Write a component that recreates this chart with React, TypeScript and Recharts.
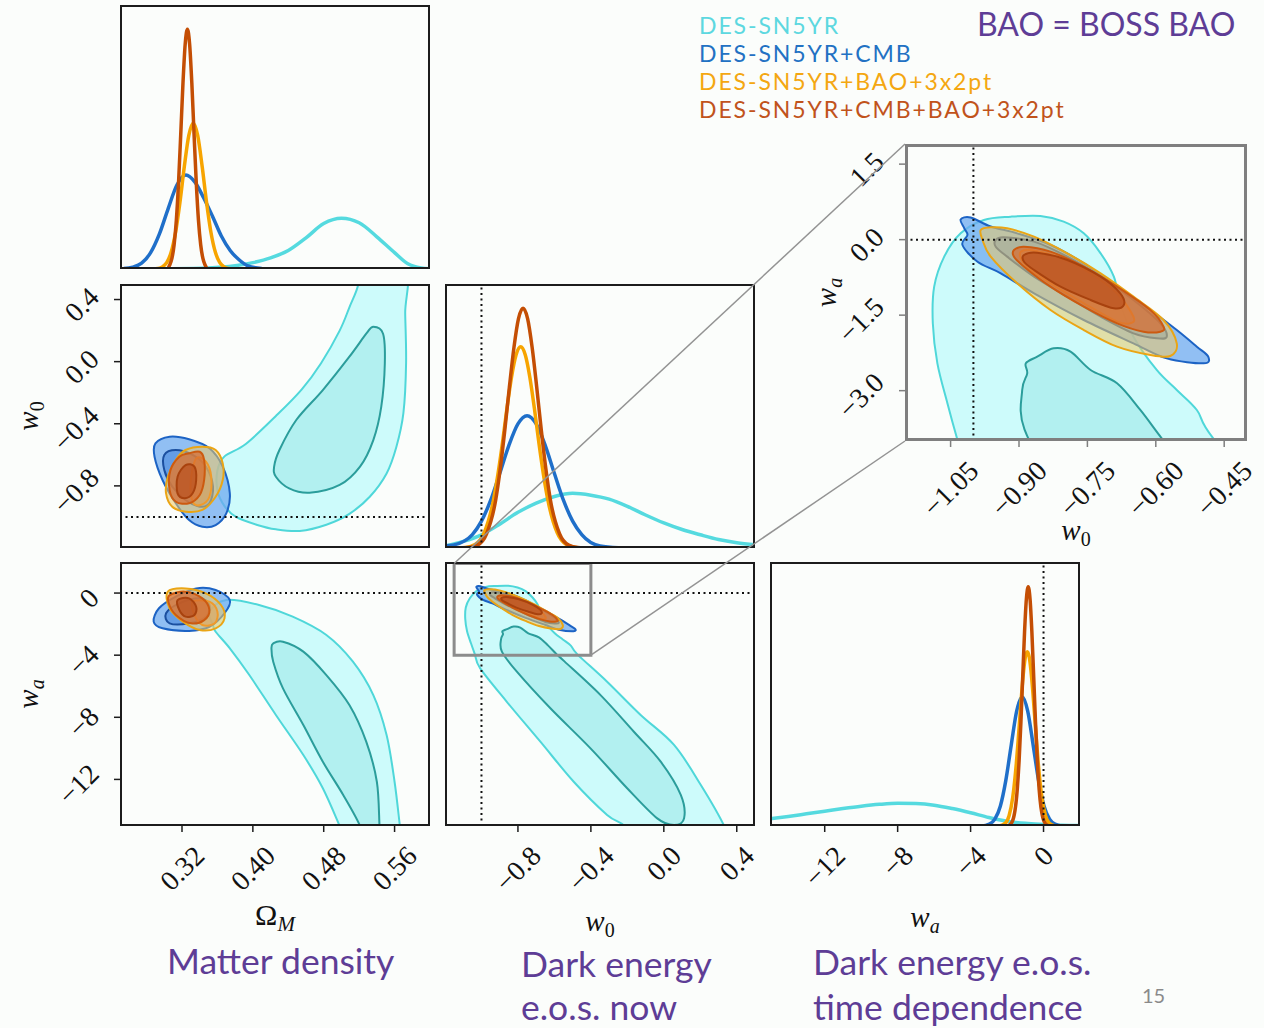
import React from "react";
import { ComposedChart, Line, Scatter, XAxis, YAxis } from "recharts";

type Pt = [number, number];
type Box = { x: number; y: number; w: number; h: number };
type Sty = { fill: string; stroke: string };

// ---- axis ranges / ticks ----
const omRange: [number, number] = [0.25, 0.6];
const w0Range: [number, number] = [-1.2, 0.5];
const waRange: [number, number] = [-15, 2];
const pdfRange: [number, number] = [0, 1];
const zoomW0Range: [number, number] = [-1.15, -0.4];
const zoomWaRange: [number, number] = [-4, 1.9];

const omTicks = [0.32, 0.4, 0.48, 0.56];
const w0Ticks = [-0.8, -0.4, 0, 0.4];
const waTicks = [-12, -8, -4, 0];
const zoomW0Ticks = [-1.05, -0.9, -0.75, -0.6, -0.45];
const zoomWaTicks = [1.5, 0, -1.5, -3];

// LCDM values (dotted lines)
const w0Fid = -1;
const waFid = 0;

const seriesNames = ["DES-SN5YR", "DES-SN5YR+CMB", "DES-SN5YR+BAO+3x2pt", "DES-SN5YR+CMB+BAO+3x2pt"];

// ---- 1D marginals (normalised heights) ----
const omCyan: Pt[] = [[0.25, 0], [0.3, 0.001], [0.35, 0.004], [0.38, 0.012], [0.4, 0.024], [0.42, 0.042], [0.44, 0.07], [0.46, 0.118], [0.48, 0.172], [0.5, 0.192], [0.52, 0.175], [0.54, 0.122], [0.56, 0.062], [0.575, 0.02], [0.59, 0.004], [0.6, 0.001]];
const omBlue: Pt[] = [[0.2544, 0.002], [0.2644, 0.007], [0.2744, 0.022], [0.2844, 0.061], [0.2944, 0.132], [0.3044, 0.229], [0.3144, 0.319], [0.3244, 0.356], [0.3344, 0.33], [0.3444, 0.27], [0.3544, 0.2], [0.3644, 0.125], [0.3744, 0.07], [0.3844, 0.035], [0.3944, 0.012], [0.41, 0.002]];
const omOrange: Pt[] = [[0.2877, 0], [0.2927, 0.002], [0.2977, 0.008], [0.3027, 0.024], [0.3077, 0.063], [0.3127, 0.138], [0.3177, 0.253], [0.3227, 0.39], [0.3277, 0.506], [0.3327, 0.552], [0.3377, 0.506], [0.3427, 0.39], [0.3477, 0.253], [0.3527, 0.138], [0.3577, 0.063], [0.3627, 0.024], [0.3677, 0.008], [0.3727, 0.002], [0.3777, 0]];
const omRed: Pt[] = [[0.2986, 0], [0.3036, 0.002], [0.3061, 0.015], [0.3086, 0.04], [0.3111, 0.092], [0.3136, 0.184], [0.3161, 0.327], [0.3186, 0.512], [0.3211, 0.704], [0.3236, 0.852], [0.3261, 0.908], [0.3286, 0.852], [0.3311, 0.704], [0.3336, 0.512], [0.3361, 0.327], [0.3386, 0.184], [0.3411, 0.092], [0.3436, 0.04], [0.3461, 0.015], [0.3486, 0.002], [0.3536, 0]];

const w0Cyan: Pt[] = [[-1.2, 0.008], [-1.1, 0.025], [-1.0, 0.05], [-0.9, 0.09], [-0.8, 0.135], [-0.7, 0.17], [-0.6, 0.195], [-0.5, 0.207], [-0.4, 0.2], [-0.3, 0.185], [-0.2, 0.158], [-0.1, 0.125], [0.0, 0.095], [0.1, 0.07], [0.2, 0.05], [0.3, 0.032], [0.4, 0.02], [0.5, 0.012]];
const w0Blue: Pt[] = [[-1.2, 0.008], [-1.15, 0.012], [-1.05, 0.051], [-1.0, 0.102], [-0.95, 0.18], [-0.9, 0.282], [-0.85, 0.388], [-0.8, 0.47], [-0.75, 0.501], [-0.7, 0.47], [-0.65, 0.388], [-0.6, 0.282], [-0.55, 0.18], [-0.5, 0.102], [-0.45, 0.051], [-0.35, 0.008], [-0.25, 0.001], [-0.19, 0]];
const w0Orange: Pt[] = [[-1.2, 0], [-1.085, 0.002], [-1.035, 0.013], [-0.985, 0.058], [-0.935, 0.179], [-0.91, 0.278], [-0.885, 0.398], [-0.86, 0.53], [-0.835, 0.648], [-0.81, 0.732], [-0.785, 0.762], [-0.76, 0.732], [-0.735, 0.648], [-0.71, 0.53], [-0.685, 0.398], [-0.66, 0.278], [-0.635, 0.179], [-0.585, 0.058], [-0.535, 0.013], [-0.485, 0.002], [-0.4, 0]];
const w0Red: Pt[] = [[-1.2, 0], [-1.072, 0.002], [-1.022, 0.011], [-0.972, 0.054], [-0.922, 0.182], [-0.897, 0.3], [-0.872, 0.447], [-0.847, 0.609], [-0.822, 0.759], [-0.797, 0.869], [-0.772, 0.908], [-0.747, 0.869], [-0.722, 0.759], [-0.697, 0.609], [-0.672, 0.447], [-0.647, 0.3], [-0.622, 0.182], [-0.572, 0.054], [-0.522, 0.011], [-0.472, 0.002], [-0.4, 0]];

const waCyan: Pt[] = [[-15, 0.027], [-14, 0.036], [-13, 0.046], [-12, 0.056], [-11, 0.066], [-10, 0.075], [-9, 0.082], [-8, 0.086], [-7, 0.085], [-6, 0.079], [-5, 0.066], [-4, 0.05], [-3, 0.032], [-2, 0.018], [-1, 0.01], [0, 0.006], [1, 0.003], [2, 0.002]];
const waBlue: Pt[] = [[-4.7, 0], [-3.37, 0], [-2.97, 0.007], [-2.67, 0.026], [-2.37, 0.075], [-2.07, 0.172], [-1.77, 0.307], [-1.47, 0.436], [-1.17, 0.49], [-0.87, 0.436], [-0.57, 0.307], [-0.27, 0.172], [0.03, 0.075], [0.33, 0.026], [0.63, 0.007], [1.03, 0], [2, 0]];
const waOrange: Pt[] = [[-4.7, 0], [-2.39, 0.001], [-2.09, 0.011], [-1.89, 0.039], [-1.69, 0.108], [-1.49, 0.238], [-1.39, 0.325], [-1.29, 0.419], [-1.19, 0.511], [-1.09, 0.589], [-0.99, 0.642], [-0.89, 0.66], [-0.79, 0.642], [-0.69, 0.589], [-0.59, 0.511], [-0.49, 0.419], [-0.39, 0.325], [-0.29, 0.238], [-0.09, 0.108], [0.11, 0.039], [0.31, 0.011], [0.61, 0.001], [2, 0]];
const waRed: Pt[] = [[-4.7, 0], [-2.04, 0], [-1.84, 0.005], [-1.64, 0.032], [-1.44, 0.139], [-1.34, 0.247], [-1.24, 0.394], [-1.14, 0.567], [-1.04, 0.736], [-0.94, 0.86], [-0.84, 0.906], [-0.74, 0.86], [-0.64, 0.736], [-0.54, 0.567], [-0.44, 0.394], [-0.34, 0.247], [-0.24, 0.139], [-0.04, 0.032], [0.16, 0.005], [0.36, 0], [2, 0]];

// ---- 2D contours: (Omega_M, w0) ----
const omW0CyanOut: Pt[] = [[0.515, 0.6], [0.571, 0.6], [0.572, 0.31], [0.573, -0.01], [0.57, -0.33], [0.562, -0.55], [0.551, -0.72], [0.532, -0.87], [0.509, -0.98], [0.483, -1.05], [0.453, -1.09], [0.426, -1.08], [0.404, -1.05], [0.381, -1.0], [0.368, -0.93], [0.36, -0.83], [0.36, -0.7], [0.368, -0.61], [0.392, -0.53], [0.426, -0.35], [0.455, -0.18], [0.477, -0.01], [0.498, 0.2], [0.509, 0.35], [0.519, 0.5]];
const omW0CyanIn: Pt[] = [[0.536, 0.225], [0.547, 0.18], [0.549, -0.01], [0.545, -0.29], [0.536, -0.505], [0.521, -0.676], [0.498, -0.794], [0.464, -0.844], [0.441, -0.816], [0.426, -0.741], [0.424, -0.676], [0.43, -0.569], [0.449, -0.376], [0.479, -0.183], [0.509, 0.032], [0.528, 0.18]];
const omW0BlueOut: Pt[] = [[0.29, -0.526], [0.306, -0.483], [0.328, -0.5], [0.351, -0.558], [0.366, -0.676], [0.374, -0.848], [0.37, -0.977], [0.358, -1.052], [0.343, -1.063], [0.328, -1.02], [0.313, -0.912], [0.298, -0.762], [0.289, -0.612]];
const omW0BlueIn: Pt[] = [[0.3, -0.601], [0.313, -0.569], [0.332, -0.601], [0.347, -0.676], [0.355, -0.805], [0.351, -0.912], [0.34, -0.934], [0.324, -0.891], [0.309, -0.805], [0.3, -0.698]];
const omW0OrOut: Pt[] = [[0.324, -0.569], [0.343, -0.548], [0.358, -0.569], [0.366, -0.655], [0.366, -0.762], [0.358, -0.87], [0.343, -0.955], [0.324, -0.966], [0.309, -0.934], [0.302, -0.848], [0.304, -0.741], [0.313, -0.633]];
const omW0OrIn: Pt[] = [[0.336, -0.623], [0.347, -0.644], [0.353, -0.741], [0.351, -0.87], [0.341, -0.923], [0.332, -0.902], [0.33, -0.762]];
const omW0RedOut: Pt[] = [[0.328, -0.59], [0.34, -0.58], [0.345, -0.633], [0.345, -0.762], [0.34, -0.859], [0.328, -0.912], [0.313, -0.902], [0.306, -0.827], [0.307, -0.698], [0.317, -0.612]];
const omW0RedIn: Pt[] = [[0.324, -0.666], [0.334, -0.676], [0.336, -0.762], [0.332, -0.848], [0.323, -0.88], [0.315, -0.848], [0.315, -0.741]];

// ---- 2D contours: (Omega_M, wa) ----
const omWaCyanOut: Pt[] = [[0.37, -0.45], [0.407, -0.77], [0.445, -1.52], [0.483, -2.7], [0.513, -4.42], [0.536, -6.57], [0.551, -9.14], [0.56, -12.15], [0.566, -15], [0.568, -16], [0.505, -16], [0.498, -15], [0.479, -12.57], [0.457, -10.43], [0.426, -7.85], [0.396, -5.28], [0.374, -3.56], [0.358, -2.49], [0.355, -2.06], [0.351, -1.2]];
const omWaCyanIn: Pt[] = [[0.423, -3.24], [0.434, -3.13], [0.457, -3.77], [0.483, -5.28], [0.509, -7.21], [0.528, -9.57], [0.54, -12.15], [0.543, -15], [0.544, -16], [0.523, -16], [0.521, -15], [0.502, -13.0], [0.479, -10.86], [0.457, -8.5], [0.434, -6.14], [0.423, -4.42], [0.421, -3.56]];
const omWaBlueOut: Pt[] = [[0.294, -0.98], [0.313, -0.23], [0.336, 0.3], [0.358, 0.2], [0.374, -0.45], [0.368, -1.3], [0.351, -2.17], [0.328, -2.44], [0.298, -2.27], [0.288, -1.84]];
const omWaBlueIn: Pt[] = [[0.302, -1.3], [0.317, -0.66], [0.34, -0.34], [0.351, -0.77], [0.347, -1.52], [0.328, -1.95], [0.306, -1.95]];
const omWaOrOut: Pt[] = [[0.304, 0.09], [0.324, 0.3], [0.347, -0.02], [0.364, -0.77], [0.368, -1.63], [0.358, -2.27], [0.34, -2.38], [0.321, -1.84], [0.306, -0.98]];
const omWaOrIn: Pt[] = [[0.332, -0.55], [0.351, -0.55], [0.36, -1.2], [0.357, -1.95], [0.343, -2.06], [0.334, -1.41]];
const omWaRedOut: Pt[] = [[0.306, -0.13], [0.324, 0.09], [0.343, -0.34], [0.351, -1.09], [0.345, -1.74], [0.33, -1.95], [0.313, -1.41], [0.305, -0.66]];
const omWaRedIn: Pt[] = [[0.315, -0.45], [0.328, -0.34], [0.336, -0.88], [0.334, -1.41], [0.324, -1.52], [0.317, -1.09]];

// ---- 2D contours: (w0, wa), shared by the panel and the zoom ----
const w0WaCyanOut: Pt[] = [[-1.064, -0.338], [-1.028, 0.125], [-0.977, 0.39], [-0.918, 0.456], [-0.853, 0.47], [-0.802, 0.357], [-0.758, 0.125], [-0.721, -0.272], [-0.692, -0.736], [-0.678, -1.265], [-0.649, -1.928], [-0.598, -2.589], [-0.554, -2.987], [-0.51, -3.384], [-0.474, -3.947], [-0.311, -5.71], [-0.127, -7.85], [0.056, -9.78], [0.203, -12.36], [0.331, -15], [0.35, -16], [-0.24, -16], [-0.219, -15], [-0.311, -14.29], [-0.494, -12.15], [-0.677, -9.57], [-0.861, -7.0], [-1.007, -4.85], [-1.036, -3.947], [-1.057, -3.25], [-1.079, -2.457], [-1.089, -1.662], [-1.086, -0.934]];
const w0WaCyanIn: Pt[] = [[-0.885, -2.457], [-0.86, -2.325], [-0.824, -2.159], [-0.787, -2.225], [-0.743, -2.589], [-0.685, -2.854], [-0.634, -3.384], [-0.587, -3.947], [-0.545, -4.4], [-0.347, -6.57], [-0.164, -8.93], [-0.017, -10.86], [0.093, -13.0], [0.111, -14.51], [0.056, -14.94], [-0.036, -14.51], [-0.201, -12.57], [-0.402, -10.0], [-0.622, -7.42], [-0.806, -5.06], [-0.888, -3.77], [-0.893, -2.987], [-0.882, -2.655]];
const w0WaBlueOut: Pt[] = [[-1.028, 0.4], [-1.006, 0.44], [-0.962, 0.26], [-0.904, 0.125], [-0.831, -0.106], [-0.758, -0.47], [-0.685, -0.934], [-0.612, -1.398], [-0.554, -1.795], [-0.51, -2.126], [-0.485, -2.325], [-0.495, -2.457], [-0.576, -2.358], [-0.649, -2.06], [-0.758, -1.596], [-0.867, -1.066], [-0.94, -0.669], [-0.991, -0.438], [-1.024, -0.106], [-1.013, 0.092], [-1.02, 0.225]];
const w0WaBlueIn: Pt[] = [[-0.951, -0.007], [-0.933, 0.046], [-0.867, -0.04], [-0.794, -0.338], [-0.721, -0.736], [-0.649, -1.199], [-0.59, -1.662], [-0.576, -1.928], [-0.598, -1.96], [-0.649, -1.861], [-0.721, -1.53], [-0.794, -1.133], [-0.867, -0.736], [-0.926, -0.338], [-0.951, -0.14]];
const w0WaOrOut: Pt[] = [[-0.984, 0.192], [-0.962, 0.245], [-0.926, 0.225], [-0.867, 0.059], [-0.794, -0.272], [-0.721, -0.669], [-0.649, -1.133], [-0.583, -1.596], [-0.554, -2.06], [-0.568, -2.311], [-0.612, -2.292], [-0.685, -2.126], [-0.758, -1.795], [-0.831, -1.398], [-0.904, -0.868], [-0.962, -0.338], [-0.98, -0.007]];
const w0WaOrIn: Pt[] = [[-0.896, -0.239], [-0.875, -0.206], [-0.816, -0.338], [-0.743, -0.669], [-0.685, -1.066], [-0.649, -1.53], [-0.656, -1.662], [-0.685, -1.629], [-0.758, -1.265], [-0.831, -0.868], [-0.882, -0.537], [-0.896, -0.371]];
const w0WaRedOut: Pt[] = [[-0.911, -0.206], [-0.889, -0.14], [-0.831, -0.239], [-0.758, -0.537], [-0.685, -0.934], [-0.612, -1.398], [-0.583, -1.729], [-0.59, -1.828], [-0.627, -1.828], [-0.685, -1.662], [-0.758, -1.331], [-0.831, -0.934], [-0.889, -0.537], [-0.911, -0.338]];
const w0WaRedIn: Pt[] = [[-0.889, -0.305], [-0.86, -0.259], [-0.794, -0.404], [-0.721, -0.736], [-0.678, -1.066], [-0.67, -1.298], [-0.692, -1.365], [-0.743, -1.199], [-0.809, -0.934], [-0.867, -0.603], [-0.889, -0.438]];

// ---- colours ----
const LINE = { cyan: "#55dadf", blue: "#1f6fc9", orange: "#f7a400", red: "#c44e04" };
const LEGEND = ["#5dd8e0", "#2271c3", "#f4a711", "#c1531b"];
const PURPLE = "#5e3d96";
const S: Record<string, Sty> = {
  cyanOut: { fill: "#cdfbfb", stroke: "#4fd7d9" },
  cyanIn: { fill: "#b2f0f0", stroke: "#2b9d9b" },
  blueOut: { fill: "rgba(110,170,240,0.75)", stroke: "#1c63c4" },
  blueIn: { fill: "rgba(70,135,220,0.6)", stroke: "#1b4f9f" },
  orOut: { fill: "rgba(240,200,100,0.55)", stroke: "#eaa515" },
  orIn: { fill: "rgba(235,160,70,0.5)", stroke: "#f09a2a" },
  redOut: { fill: "rgba(215,105,45,0.7)", stroke: "#cc5a10" },
  redIn: { fill: "rgba(185,80,30,0.7)", stroke: "#a8420e" },
};

const SERIF = "'Liberation Serif', 'DejaVu Serif', serif";
const SANS = "Lato, 'Open Sans', sans-serif";
const TFS = 28;

// ---- layout ----
const P11: Box = { x: 120, y: 5, w: 310, h: 264 };
const P21: Box = { x: 120, y: 284, w: 310, h: 264 };
const P22: Box = { x: 445, y: 284, w: 310, h: 264 };
const P31: Box = { x: 120, y: 562, w: 310, h: 264 };
const P32: Box = { x: 445, y: 562, w: 310, h: 264 };
const P33: Box = { x: 770, y: 562, w: 310, h: 264 };
const INSET: Box = { x: 905, y: 144, w: 342, h: 297 };
const PAD_L = 110;
const PAD_R = 30;
const PAD_B = 110;
const PAD_T = 30;

const toXY = (pts: Pt[]) => pts.map(([x, y]) => ({ x, y }));

const fmt = (v: number, d: number) => {
  const s = Math.abs(v).toFixed(d);
  return v < -1e-9 ? "\u2212" + s : s;
};
const estW = (s: string) => [...s].reduce((a, c) => a + (c === "." ? 0.25 : c === "\u2212" ? 0.564 : 0.5), 0) * TFS;

const xTick = (digits: number) => (p: any) => {
  const s = fmt(p.payload.value, digits);
  const bb = (estW(s) + TFS * 0.6) * 0.7071;
  const cx = p.x;
  const cy = p.y + 11 + bb / 2;
  return (
    <text x={cx} y={cy} textAnchor="middle" dominantBaseline="central" transform={`rotate(-45 ${cx} ${cy})`} fontSize={TFS} fontFamily={SERIF} fill="#111">
      {s}
    </text>
  );
};
const yTick = (digits: number) => (p: any) => {
  const s = fmt(p.payload.value, digits);
  const bb = (estW(s) + TFS * 0.6) * 0.7071;
  const cx = p.x - 12 - bb / 2;
  const cy = p.y + 5;
  return (
    <text x={cx} y={cy} textAnchor="middle" dominantBaseline="central" transform={`rotate(-45 ${cx} ${cy})`} fontSize={TFS} fontFamily={SERIF} fill="#111">
      {s}
    </text>
  );
};

// closed Catmull-Rom through the scaled points
const smoothClosed = (pts: { x: number; y: number }[]) => {
  const n = pts.length;
  let d = `M${pts[0].x},${pts[0].y}`;
  for (let i = 0; i < n; i++) {
    const p0 = pts[(i - 1 + n) % n], p1 = pts[i], p2 = pts[(i + 1) % n], p3 = pts[(i + 2) % n];
    d += `C${p1.x + (p2.x - p0.x) / 6},${p1.y + (p2.y - p0.y) / 6} ${p2.x - (p3.x - p1.x) / 6},${p2.y - (p3.y - p1.y) / 6} ${p2.x},${p2.y}`;
  }
  return d + "Z";
};

const noDot = () => <g />;

const pdf = (key: string, pts: Pt[], color: string) => (
  <Line key={key} data={toXY(pts)} dataKey="y" type="monotone" stroke={color} strokeWidth={3.5} dot={false} activeDot={false} isAnimationActive={false} />
);

const contour = (key: string, pts: Pt[], s: Sty) => (
  <Scatter
    key={key}
    data={toXY(pts)}
    isAnimationActive={false}
    shape={noDot}
    line={(lp: any) => <path d={smoothClosed(lp.points)} fill={s.fill} stroke={s.stroke} strokeWidth={2} strokeLinejoin="round" />}
  />
);

const dotted = (key: string, pts: Pt[]) => (
  <Scatter key={key} data={toXY(pts)} isAnimationActive={false} shape={noDot} line={{ stroke: "#111", strokeWidth: 2, strokeDasharray: "2 3.5" }} />
);

const boxOutline = (key: string, xr: [number, number], yr: [number, number]) => (
  <Scatter
    key={key}
    data={toXY([[xr[0], yr[0]], [xr[1], yr[0]], [xr[1], yr[1]], [xr[0], yr[1]]])}
    isAnimationActive={false}
    shape={noDot}
    line={(lp: any) => (
      <path d={"M" + lp.points.map((q: any) => `${q.x},${q.y}`).join("L") + "Z"} fill="none" stroke="#8c8c8c" strokeWidth={3} />
    )}
  />
);

const w0WaSet = (pfx: string) => [
  contour(pfx + "co", w0WaCyanOut, S.cyanOut),
  contour(pfx + "ci", w0WaCyanIn, S.cyanIn),
  contour(pfx + "bo", w0WaBlueOut, S.blueOut),
  contour(pfx + "bi", w0WaBlueIn, S.blueIn),
  contour(pfx + "oo", w0WaOrOut, S.orOut),
  contour(pfx + "oi", w0WaOrIn, S.orIn),
  contour(pfx + "ro", w0WaRedOut, S.redOut),
  contour(pfx + "ri", w0WaRedIn, S.redIn),
];

interface PanelProps {
  box: Box;
  xDomain: [number, number];
  yDomain: [number, number];
  xTicks?: number[];
  yTicks?: number[];
  xDigits?: number;
  yDigits?: number;
  frame?: string;
  frameW?: number;
  children: React.ReactNode;
}

function Panel({ box, xDomain, yDomain, xTicks, yTicks, xDigits = 1, yDigits = 1, frame = "#1c1c1c", frameW = 2, children }: PanelProps) {
  const W = PAD_L + box.w + PAD_R;
  const H = PAD_T + box.h + PAD_B;
  return (
    <div style={{ position: "absolute", left: box.x - PAD_L, top: box.y - PAD_T, width: W, height: H }}>
      <ComposedChart width={W} height={H} margin={{ top: PAD_T, right: PAD_R, bottom: 0, left: 0 }}>
        <XAxis
          type="number"
          dataKey="x"
          domain={xDomain}
          allowDataOverflow
          height={PAD_B}
          ticks={xTicks}
          interval={0}
          axisLine={false}
          tickSize={6}
          tick={xTicks ? xTick(xDigits) : false}
          tickLine={xTicks ? { stroke: frame, strokeWidth: 1.5 } : false}
        />
        <YAxis
          type="number"
          dataKey="y"
          domain={yDomain}
          allowDataOverflow
          width={PAD_L}
          ticks={yTicks}
          interval={0}
          axisLine={false}
          tickSize={6}
          tick={yTicks ? yTick(yDigits) : false}
          tickLine={yTicks ? { stroke: frame, strokeWidth: 1.5 } : false}
        />
        {children}
      </ComposedChart>
      <div
        style={{
          position: "absolute",
          left: PAD_L,
          top: PAD_T,
          width: box.w,
          height: box.h,
          border: `${frameW}px solid ${frame}`,
          boxSizing: "border-box",
          pointerEvents: "none",
        }}
      />
    </div>
  );
}

const px = (b: Box, d: [number, number], v: number) => b.x + ((v - d[0]) / (d[1] - d[0])) * b.w;
const py = (b: Box, d: [number, number], v: number) => b.y + b.h - ((v - d[0]) / (d[1] - d[0])) * b.h;

export default function App() {
  const rectL = px(P32, w0Range, zoomW0Range[0]);
  const rectR = px(P32, w0Range, zoomW0Range[1]);
  const rectT = py(P32, waRange, zoomWaRange[1]);
  const rectB = py(P32, waRange, zoomWaRange[0]);
  const mathLabel = (x: number, y: number, main: string, sub: string, subItalic: boolean, mainItalic = true) => (
    <text x={x} y={y} textAnchor="middle" fontFamily={SERIF} fontSize={29} fill="#111" fontStyle={mainItalic ? "italic" : "normal"}>
      {main}
      <tspan fontSize={20} dy={6} fontStyle={subItalic ? "italic" : "normal"}>
        {sub}
      </tspan>
    </text>
  );
  const purple = (x: number, y: number, s: string) => (
    <text x={x} y={y} fontFamily={SANS} fontSize={35.5} fill={PURPLE}>
      {s}
    </text>
  );

  return (
    <div style={{ position: "absolute", left: 0, top: 0, width: 1264, height: 1028, background: "#fbfdfb", overflow: "hidden" }}>
      <Panel box={P11} xDomain={omRange} yDomain={pdfRange}>
        {[pdf("c", omCyan, LINE.cyan), pdf("b", omBlue, LINE.blue), pdf("o", omOrange, LINE.orange), pdf("r", omRed, LINE.red)]}
      </Panel>

      <Panel box={P21} xDomain={omRange} yDomain={w0Range} yTicks={w0Ticks} yDigits={1}>
        {[
          contour("co", omW0CyanOut, S.cyanOut),
          contour("ci", omW0CyanIn, S.cyanIn),
          contour("bo", omW0BlueOut, S.blueOut),
          contour("bi", omW0BlueIn, S.blueIn),
          contour("oo", omW0OrOut, S.orOut),
          contour("oi", omW0OrIn, S.orIn),
          contour("ro", omW0RedOut, S.redOut),
          contour("ri", omW0RedIn, S.redIn),
          dotted("fid", [[omRange[0], w0Fid], [omRange[1], w0Fid]]),
        ]}
      </Panel>

      <Panel box={P22} xDomain={w0Range} yDomain={pdfRange}>
        {[
          pdf("c", w0Cyan, LINE.cyan),
          pdf("b", w0Blue, LINE.blue),
          pdf("o", w0Orange, LINE.orange),
          pdf("r", w0Red, LINE.red),
          dotted("fid", [[w0Fid, pdfRange[0]], [w0Fid, pdfRange[1]]]),
        ]}
      </Panel>

      <Panel box={P31} xDomain={omRange} yDomain={waRange} xTicks={omTicks} xDigits={2} yTicks={waTicks} yDigits={0}>
        {[
          contour("co", omWaCyanOut, S.cyanOut),
          contour("ci", omWaCyanIn, S.cyanIn),
          contour("bo", omWaBlueOut, S.blueOut),
          contour("bi", omWaBlueIn, S.blueIn),
          contour("oo", omWaOrOut, S.orOut),
          contour("oi", omWaOrIn, S.orIn),
          contour("ro", omWaRedOut, S.redOut),
          contour("ri", omWaRedIn, S.redIn),
          dotted("fid", [[omRange[0], waFid], [omRange[1], waFid]]),
        ]}
      </Panel>

      <Panel box={P32} xDomain={w0Range} yDomain={waRange} xTicks={w0Ticks} xDigits={1}>
        {[
          ...w0WaSet("p"),
          dotted("fx", [[w0Fid, waRange[0]], [w0Fid, waRange[1]]]),
          dotted("fy", [[w0Range[0], waFid], [w0Range[1], waFid]]),
          boxOutline("zoom", zoomW0Range, zoomWaRange),
        ]}
      </Panel>

      <Panel box={P33} xDomain={waRange} yDomain={pdfRange} xTicks={waTicks} xDigits={0}>
        {[
          pdf("c", waCyan, LINE.cyan),
          pdf("b", waBlue, LINE.blue),
          pdf("o", waOrange, LINE.orange),
          pdf("r", waRed, LINE.red),
          dotted("fid", [[waFid, pdfRange[0]], [waFid, pdfRange[1]]]),
        ]}
      </Panel>

      <Panel
        box={INSET}
        xDomain={zoomW0Range}
        yDomain={zoomWaRange}
        xTicks={zoomW0Ticks}
        xDigits={2}
        yTicks={zoomWaTicks}
        yDigits={1}
        frame="#7f7f7f"
        frameW={3}
      >
        {[
          ...w0WaSet("z"),
          dotted("fx", [[w0Fid, zoomWaRange[0]], [w0Fid, zoomWaRange[1]]]),
          dotted("fy", [[zoomW0Range[0], waFid], [zoomW0Range[1], waFid]]),
        ]}
      </Panel>

      <svg width={1264} height={1028} style={{ position: "absolute", left: 0, top: 0, pointerEvents: "none" }}>
        <line x1={rectL} y1={rectT} x2={INSET.x} y2={INSET.y} stroke="#939393" strokeWidth={1.5} />
        <line x1={rectR} y1={rectB} x2={INSET.x} y2={INSET.y + INSET.h} stroke="#939393" strokeWidth={1.5} />

        {seriesNames.map((n, i) => (
          <text key={n} x={699} y={34 + i * 28} fontFamily={SANS} fontSize={23} letterSpacing={1.9} fill={LEGEND[i]}>
            {n}
          </text>
        ))}
        <text x={977} y={36} fontFamily={SANS} fontSize={32} fill={PURPLE}>
          BAO = BOSS BAO
        </text>

        <text x={275} y={925} textAnchor="middle" fontFamily={SERIF} fontSize={30} fill="#111">
          Ω
          <tspan fontSize={21} dy={6} fontStyle="italic">
            M
          </tspan>
        </text>
        {mathLabel(600, 931, "w", "0", false)}
        {mathLabel(925, 927, "w", "a", true)}
        {mathLabel(1076, 540, "w", "0", false)}
        <g transform="translate(30 416) rotate(-90)">{mathLabel(0, 8, "w", "0", false)}</g>
        <g transform="translate(30 694) rotate(-90)">{mathLabel(0, 8, "w", "a", true)}</g>
        <g transform={`translate(828 ${INSET.y + INSET.h / 2}) rotate(-90)`}>{mathLabel(0, 8, "w", "a", true)}</g>

        {purple(167, 974, "Matter density")}
        {purple(521, 977, "Dark energy")}
        {purple(521, 1020, "e.o.s. now")}
        {purple(813, 975, "Dark energy e.o.s.")}
        {purple(813, 1020, "time dependence")}
        <text x={1142} y={1003} fontFamily={SANS} fontSize={20} fill="#8a8a8a">
          15
        </text>
      </svg>
    </div>
  );
}
